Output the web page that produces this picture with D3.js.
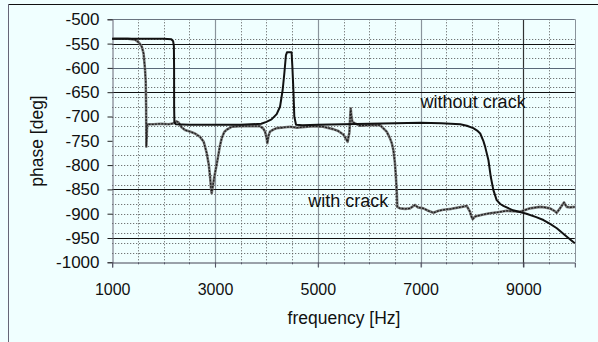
<!DOCTYPE html>
<html>
<head>
<meta charset="utf-8">
<script src="https://d3js.org/d3.v7.min.js"></script>
<style>
  body { margin: 0; background: #f0ffff; }
  svg { display: block; font-family: "Liberation Sans", Arial, sans-serif; }
</style>
</head>
<body>
<script>
// frequency ticks and phase ticks
var xTicks = [1000, 3000, 5000, 7000, 9000];
var yTicks = [-500, -550, -600, -650, -700, -750, -800, -850, -900, -950, -1000];
var xMinorGrid = [1500, 2000, 2500, 3500, 4000, 4500, 5500, 6000, 6500, 7500, 8000, 8500, 9500];
var yMinorGrid = d3.range(-540, -990, -20);
// solid gridlines as they appear in the scan
var xSolidGrid = [3000, 5000, 7000, 9000];
var ySolidGrid = [-550, -600, -650, -850, -950];

// curve "without crack"
var freqNoCrack = [1000, 1500, 2000, 2150, 2185, 2200, 2204, 2205, 2210, 2240, 2500, 3000, 3500, 3900, 4000, 4100,
  4200, 4265, 4317, 4350, 4380, 4400, 4490, 4505, 4525, 4543, 4576, 4700, 5000, 5500, 6000, 6500, 7000, 7400,
  7770, 7900, 8025, 8100, 8160, 8220, 8255, 8320, 8365, 8415, 8480, 8550, 8610, 8800, 9060, 9250, 9390, 9520,
  9650, 9840, 10000];
var phaseNoCrack = [-540, -540, -540, -541, -545, -555, -600, -680, -712, -716, -717, -717, -717, -715, -711, -706,
  -695, -680, -645, -610, -574, -568, -568, -597, -645, -700, -717, -718, -717, -716, -715, -714, -713, -714,
  -716, -719, -724, -729, -735, -750, -762, -790, -824, -851, -872, -880, -884, -893, -900, -907, -913, -921,
  -930, -947, -961];

// curve "with crack"
var freqCrack = [1000, 1300, 1450, 1520, 1575, 1610, 1625, 1640, 1652, 1660, 1664, 1672, 1680, 1800, 1950, 2100,
  2200, 2250, 2290, 2350, 2416, 2510, 2610, 2710, 2780, 2838, 2880, 2905, 2920, 2935, 2955, 2986, 3030, 3064,
  3097, 3130, 3180, 3230, 3330, 3500, 3700, 3876, 3940, 3973, 4005, 4018, 4040, 4070, 4134, 4200, 4460, 4590,
  4913, 5100, 5300, 5400, 5496, 5560, 5581, 5600, 5614, 5630, 5640, 5655, 5672, 5724, 5821, 6000, 6210, 6340,
  6405, 6440, 6470, 6500, 6515, 6535, 6547, 6600, 6700, 6794, 6850, 6891, 6950, 7053, 7150, 7248, 7350, 7442,
  7600, 7750, 7897, 7961, 7990, 8014, 8058, 8200, 8350, 8500, 8675, 8934, 9128, 9323, 9420, 9517, 9600, 9648,
  9712, 9790, 9842, 9906, 10000];
var phaseCrack = [-540, -540, -542, -548, -556, -570, -587, -605, -628, -680, -762, -740, -716, -716, -715, -716,
  -714, -710, -712, -722, -728, -731, -735, -742, -752, -775, -800, -825, -845, -858, -845, -825, -800, -780,
  -760, -745, -732, -727, -721, -720, -720, -720, -725, -731, -745, -755, -740, -731, -727, -724, -721, -723,
  -720, -721, -726, -730, -737, -748, -752, -740, -734, -700, -683, -700, -711, -714, -719, -718, -717.5, -731,
  -745, -755, -769, -795, -817, -851, -886, -889, -890, -889, -885, -882, -887, -889, -894, -898, -894, -892,
  -890, -887, -884, -896, -906, -911, -906, -902, -899, -897, -894, -896, -889, -886, -887, -889, -894, -898,
  -889, -877, -886, -887, -886];

var labels = [
  { text: "without crack", f: 7000, p: -683 },
  { text: "with crack", f: 4815, p: -887 }
];

var width = 598, height = 342;
var svg = d3.select("body").append("svg")
  .attr("width", width)
  .attr("height", height)
  .style("background-color", "#f0ffff");

var x = d3.scaleLinear().domain([1000, 10000]).range([112.2, 574.8]);
var y = d3.scaleLinear().domain([-1000, -500]).range([262.3, 19.3]);

// outer frame (top and left only)
svg.append("line").attr("x1", 8).attr("y1", 4.5).attr("x2", width).attr("y2", 4.5)
  .style("stroke", "#111").style("stroke-width", 1);
svg.append("line").attr("x1", 8.5).attr("y1", 4).attr("x2", 8.5).attr("y2", height)
  .style("stroke", "#667").style("stroke-width", 1);

// dotted minor grid
svg.append("g").selectAll("line").data(yMinorGrid).join("line")
  .attr("x1", x(1000)).attr("x2", x(10000))
  .attr("y1", d => Math.round(y(d)) + 0.5).attr("y2", d => Math.round(y(d)) + 0.5)
  .style("stroke", "#555").style("stroke-width", 1).style("stroke-dasharray", "1,2");
svg.append("g").selectAll("line").data(xMinorGrid).join("line")
  .attr("x1", d => Math.round(x(d)) + 0.5).attr("x2", d => Math.round(x(d)) + 0.5)
  .attr("y1", y(-500)).attr("y2", y(-1000))
  .style("stroke", "#555").style("stroke-width", 1).style("stroke-dasharray", "1,2");

// solid grid
svg.append("g").selectAll("line").data(xSolidGrid).join("line")
  .attr("x1", d => Math.round(x(d)) + 0.5).attr("x2", d => Math.round(x(d)) + 0.5)
  .attr("y1", y(-500)).attr("y2", y(-1000) + 5)
  .style("stroke", d => d === 9000 ? "#333" : "#8a949c").style("stroke-width", 1.2);
svg.append("g").selectAll("line").data(ySolidGrid).join("line")
  .attr("x1", x(1000)).attr("x2", x(10000))
  .attr("y1", d => Math.round(y(d)) + 0.5).attr("y2", d => Math.round(y(d)) + 0.5)
  .style("stroke", d => d === -600 ? "#5a6878" : "#111").style("stroke-width", 1.2);

// top edge of plot
svg.append("line").attr("x1", x(1000)).attr("x2", x(10000))
  .attr("y1", Math.round(y(-500)) + 0.5).attr("y2", Math.round(y(-500)) + 0.5)
  .style("stroke", "#6a7480").style("stroke-width", 1);
// right edge of plot
svg.append("line").attr("x1", Math.round(x(10000)) + 0.5).attr("x2", Math.round(x(10000)) + 0.5)
  .attr("y1", y(-500)).attr("y2", y(-1000))
  .style("stroke", "#8a949c").style("stroke-width", 1);

// axes
var yAxis = svg.append("g")
  .attr("transform", "translate(" + (Math.round(x(1000)) + 0.5) + ",0)")
  .call(d3.axisLeft(y).tickValues(yTicks).tickSize(5).tickPadding(8).tickFormat(d => String(d)));
yAxis.select(".domain").style("stroke", "#667");
yAxis.selectAll(".tick line").style("stroke", "#222");
yAxis.selectAll("text").style("font-size", "17px").style("fill", "#111")
  .style("font-family", "'Liberation Sans', Arial, sans-serif");

var xAxis = svg.append("g")
  .attr("transform", "translate(0," + (Math.round(y(-1000)) + 0.5) + ")")
  .call(d3.axisBottom(x).tickValues(xTicks).tickSize(5).tickPadding(16).tickFormat(d => String(d)));
xAxis.select(".domain").style("stroke", "#445");
xAxis.selectAll(".tick line").style("stroke", "#556");
xAxis.selectAll("text").style("font-size", "16px").style("fill", "#111")
  .style("font-family", "'Liberation Sans', Arial, sans-serif");
// small minor ticks on x axis
svg.append("g").selectAll("line").data(xMinorGrid).join("line")
  .attr("x1", d => Math.round(x(d)) + 0.5).attr("x2", d => Math.round(x(d)) + 0.5)
  .attr("y1", y(-1000)).attr("y2", y(-1000) + 2)
  .style("stroke", "#556");

// axis titles
svg.append("text")
  .attr("transform", "translate(43," + 141 + ") rotate(-90)")
  .attr("text-anchor", "middle")
  .style("font-size", "17.5px").style("fill", "#111")
  .text("phase [deg]");
svg.append("text")
  .attr("x", 344).attr("y", 324)
  .attr("text-anchor", "middle")
  .style("font-size", "17.5px").style("fill", "#111")
  .text("frequency [Hz]");

// curves
var line = d3.line().x(d => x(d[0])).y(d => y(d[1]));
var crackPts = d3.zip(freqCrack, phaseCrack);
var noCrackPts = d3.zip(freqNoCrack, phaseNoCrack);

svg.append("path").datum(crackPts).attr("d", line)
  .style("fill", "none").style("stroke", "#7a7a7a").style("stroke-width", 2.6)
  .style("stroke-linejoin", "round");
svg.append("path").datum(crackPts).attr("d", line)
  .style("fill", "none").style("stroke", "#1e1e1e").style("stroke-width", 1.3)
  .style("stroke-dasharray", "2,1.2");
svg.append("path").datum(noCrackPts).attr("d", line)
  .style("fill", "none").style("stroke", "#111").style("stroke-width", 2)
  .style("stroke-linejoin", "round");

// annotations
svg.append("g").selectAll("text").data(labels).join("text")
  .attr("x", d => x(d.f)).attr("y", d => y(d.p))
  .style("font-size", "18px").style("fill", "#111")
  .text(d => d.text);
</script>
</body>
</html>
